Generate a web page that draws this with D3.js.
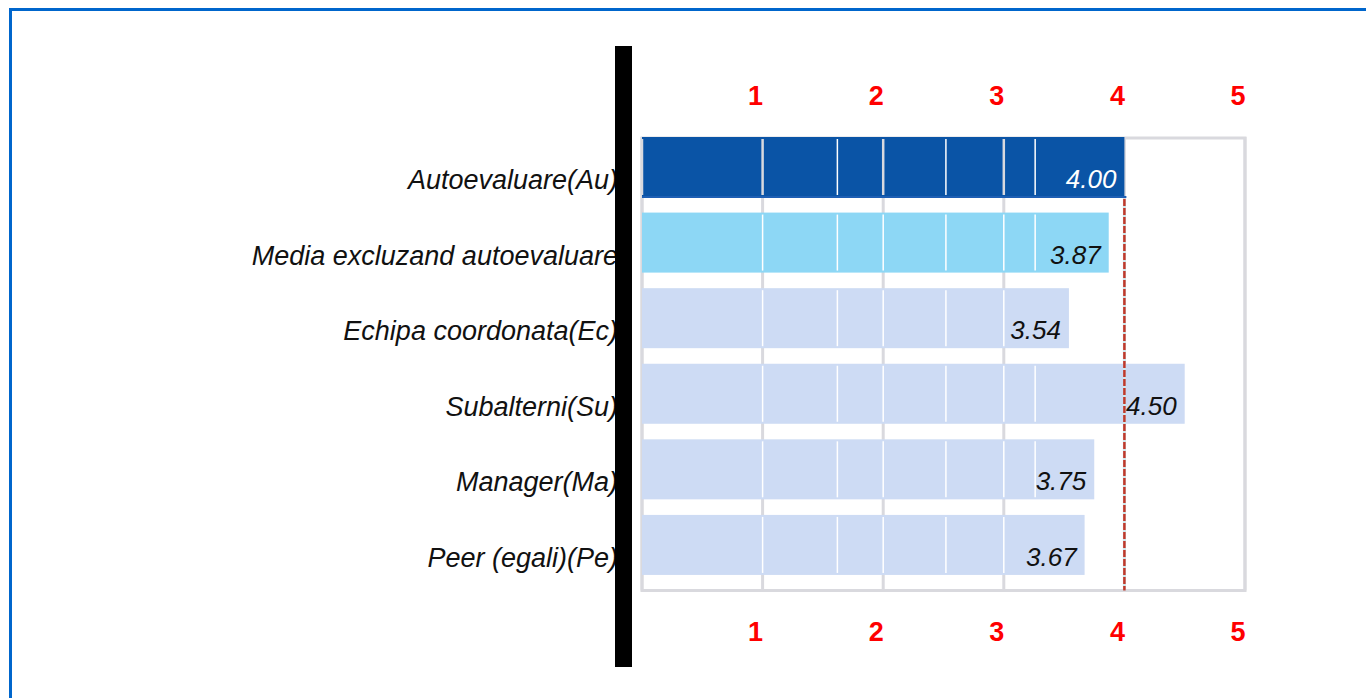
<!DOCTYPE html>
<html>
<head>
<meta charset="utf-8">
<script src="https://cdn.jsdelivr.net/npm/d3@7"></script>
<style>
  html, body { margin: 0; padding: 0; background: #fff; overflow: hidden; }
  svg { display: block; font-family: "Liberation Sans", Arial, sans-serif; }
</style>
</head>
<body>
<svg id="chart" width="1366" height="698"></svg>
<script>
// data
const categories = ['Autoevaluare(Au)', 'Media excluzand autoevaluare', 'Echipa coordonata(Ec)', 'Subalterni(Su)', 'Manager(Ma)', 'Peer (egali)(Pe)'];
const scores = [4.00, 3.87, 3.54, 4.50, 3.75, 3.67];
const tickValues = [1, 2, 3, 4, 5];
const gridValues = [0, 1, 2, 3, 4, 5];
const segmentBreaks = [1, 1.62, 2, 2.52, 3, 3.26]; // thin white seams inside the bars
const referenceScore = scores[0]; // red dashed line = self evaluation

const data = categories.map((c, i) => ({ category: c, score: scores[i], i }));

const colorFor = i => i === 0 ? '#0A54A6' : i === 1 ? '#8DD7F5' : '#CDDBF4';
const labelColor = i => i === 0 ? '#ffffff' : '#111111';

const svg = d3.select('#chart');

// outer blue frame (right / bottom edges run off the page)
svg.append('rect')
  .attr('x', 10.5).attr('y', 9.5)
  .attr('width', 1400).attr('height', 800)
  .attr('fill', 'none')
  .attr('stroke', '#0066CC')
  .attr('stroke-width', 3);

const x = d3.scaleLinear().domain([0, 5]).range([642, 1245]);
const y = d3.scaleBand()
  .domain(categories)
  .range([137, 590.5])
  .paddingInner(0.206)
  .paddingOuter(0.103)
  .align(0);

const plotTop = 137, plotBottom = 590.5;

// grid lines
svg.append('g')
  .selectAll('line')
  .data(gridValues)
  .join('line')
    .attr('x1', d => x(d)).attr('x2', d => x(d))
    .attr('y1', plotTop).attr('y2', plotBottom)
    .attr('stroke', '#D9D9DE')
    .attr('stroke-width', 3);

// frame
svg.append('rect')
  .attr('x', x(0)).attr('y', plotTop + 1)
  .attr('width', x(5) - x(0)).attr('height', plotBottom - plotTop - 1)
  .attr('fill', 'none')
  .attr('stroke', '#D9D9DE')
  .attr('stroke-width', 3);

// bars
const rows = svg.append('g')
  .selectAll('g')
  .data(data)
  .join('g');

rows.append('rect')
  .attr('x', x(0))
  .attr('y', d => y(d.category))
  .attr('width', d => x(d.score) - x(0))
  .attr('height', y.bandwidth())
  .attr('fill', d => colorFor(d.i));

// dark bottom edge on the first bar
rows.filter(d => d.i === 0).append('line')
  .attr('x1', x(0)).attr('x2', d => x(d.score) + 2)
  .attr('y1', d => y(d.category) + y.bandwidth())
  .attr('y2', d => y(d.category) + y.bandwidth())
  .attr('stroke', '#1E5FB4')
  .attr('stroke-width', 2);

// seams inside bars
rows.each(function(d) {
  d3.select(this).selectAll('line.seam')
    .data(segmentBreaks.filter(b => b < d.score - 0.45))
    .join('line')
      .attr('class', 'seam')
      .attr('x1', b => x(b)).attr('x2', b => x(b))
      .attr('y1', y(d.category) + 2)
      .attr('y2', y(d.category) + y.bandwidth() - 2)
      .attr('stroke', b => (d.i === 0 && Number.isInteger(b)) ? '#D9D9DE' : '#ffffff')
      .attr('stroke-width', b => (d.i === 0 && Number.isInteger(b)) ? 2.5 : 1.5);
});

// left frame edge stays visible over the first bar
svg.append('line')
  .attr('x1', x(0)).attr('x2', x(0))
  .attr('y1', y(categories[0]) + 2).attr('y2', y(categories[0]) + y.bandwidth() - 2)
  .attr('stroke', '#D9D9DE')
  .attr('stroke-width', 2.5);

// reference line
svg.append('line')
  .attr('x1', x(referenceScore)).attr('x2', x(referenceScore))
  .attr('y1', y(categories[0]) + y.bandwidth() + 2)
  .attr('y2', plotBottom)
  .attr('stroke', '#CFE9EE')
  .attr('stroke-width', 2.5);
svg.append('line')
  .attr('x1', x(referenceScore)).attr('x2', x(referenceScore))
  .attr('y1', y(categories[0]) + y.bandwidth() + 2)
  .attr('y2', plotBottom)
  .attr('stroke', '#C0392B')
  .attr('stroke-width', 2.5)
  .attr('stroke-dasharray', '7,2');

// value labels
rows.append('text')
  .attr('x', d => x(d.score) - 8)
  .attr('y', d => y(d.category) + 51)
  .attr('text-anchor', 'end')
  .attr('font-size', 26)
  .attr('font-style', 'italic')
  .attr('fill', d => labelColor(d.i))
  .text(d => d.score.toFixed(2));

// category labels
svg.append('g')
  .selectAll('text')
  .data(data)
  .join('text')
    .attr('x', 618)
    .attr('y', d => y(d.category) + 52)
    .attr('text-anchor', 'end')
    .attr('font-size', 27)
    .attr('font-style', 'italic')
    .attr('fill', '#111')
    .text(d => d.category);

// black divider
svg.append('rect')
  .attr('x', 615).attr('y', 46)
  .attr('width', 17).attr('height', 621)
  .attr('fill', '#000');

// tick labels, top and bottom
[105, 641].forEach(base => {
  svg.append('g')
    .selectAll('text')
    .data(tickValues)
    .join('text')
      .attr('x', d => x(d) - 7)
      .attr('y', base)
      .attr('text-anchor', 'middle')
      .attr('font-size', 27)
      .attr('font-weight', 'bold')
      .attr('fill', '#FF0000')
      .text(d => d);
});
</script>
</body>
</html>
